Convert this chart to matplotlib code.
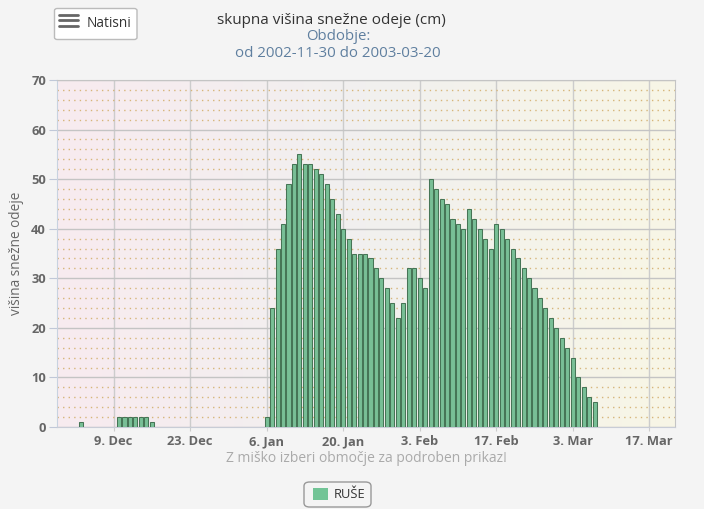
import matplotlib
matplotlib.use("Agg")
import matplotlib.pyplot as plt
from matplotlib.patches import FancyBboxPatch, Rectangle
from matplotlib.colors import LinearSegmentedColormap
import numpy as np
import pandas as pd

plt.rcParams['font.family'] = ['Open Sans', 'DejaVu Sans']

# daily snow depth (cm), 2002-11-30 .. 2003-03-20
start_date = "2002-11-30"
depth = [
    0, 0, 0, 1, 0, 0, 0, 0, 0, 0,            # 30 Nov - 9 Dec
    2, 2, 2, 2, 2, 2, 1,                     # 10 - 16 Dec
    0, 0, 0, 0, 0, 0, 0, 0, 0, 0, 0, 0, 0, 0, 0,  # 17 - 31 Dec
    0, 0, 0, 0, 0,                           # 1 - 5 Jan
    2, 24, 36, 41, 49, 53, 55, 53, 53, 52, 51, 49, 46, 43, 40, 38,
    35, 35, 35, 34, 32, 30, 28, 25, 22, 25,  # 6 - 31 Jan
    32, 32, 30, 28, 50, 48, 46, 45, 42, 41, 40, 44, 42, 40, 38, 36,
    41, 40, 38, 36, 34, 32, 30, 28, 26, 24, 22, 20,  # Feb
    18, 16, 14, 10, 8, 6, 5,                 # 1 - 7 Mar
    0, 0, 0, 0, 0, 0, 0, 0, 0, 0, 0, 0, 0,   # 8 - 20 Mar
]
tick_dates = ["2002-12-09", "2002-12-23", "2003-01-06", "2003-01-20",
              "2003-02-03", "2003-02-17", "2003-03-03", "2003-03-17"]
tick_labels = ["9. Dec", "23. Dec", "6. Jan", "20. Jan",
               "3. Feb", "17. Feb", "3. Mar", "17. Mar"]

W, H = 704, 509
fig = plt.figure(figsize=(W / 100, H / 100), dpi=100, facecolor='#f4f4f4')


def fx(px):
    return px / W


def fy(py):
    return 1 - py / H


ax = fig.add_axes([fx(57), fy(427), fx(675) - fx(57), fy(80) - fy(427)])

dates = pd.date_range(start_date, periods=len(depth), freq='D')
vals = np.array(depth)
mask = vals > 0
ax.bar(dates[mask], vals[mask], width=0.74, color='#78bf96',
       edgecolor='#467556', linewidth=0.75, zorder=3)

# plot background gradient
cmap = LinearSegmentedColormap.from_list('bg', ['#f8ebf0', '#f1f0ef', '#f8f6e6'])
ax.imshow(np.linspace(0, 1, 256)[None, :], extent=[0, 1, 0, 1], transform=ax.transAxes,
          aspect='auto', cmap=cmap, zorder=0)

ax.set_xlim(pd.Timestamp("2002-12-09") - pd.Timedelta(days=10.35),
            pd.Timestamp("2003-03-17") + pd.Timedelta(days=4.7))
ax.set_ylim(0, 70)

ax.set_xticks([pd.Timestamp(d) for d in tick_dates])
ax.set_xticklabels(tick_labels)
ax.set_yticks(range(0, 71, 10))
ax.set_yticks([v for v in range(0, 71, 2) if v % 10], minor=True)

ax.grid(axis='y', which='major', color='#c4c4c4', linewidth=1, zorder=1)
ax.grid(axis='x', which='major', color='#cccccc', linewidth=1, zorder=1)
ax.grid(axis='y', which='minor', color='#d6b57a', linewidth=1.0,
        linestyle=(0, (1, 3)), zorder=1)

for lab in ax.get_xticklabels() + ax.get_yticklabels():
    lab.set_fontweight('bold')
    lab.set_color('#666666')
    lab.set_fontsize(9.3)
ax.tick_params(axis='y', which='major', length=6, color='#c0c8d8', pad=2)
ax.tick_params(axis='y', which='minor', length=0)
ax.tick_params(axis='x', length=3, color='#cccccc', pad=3)

ax.spines['top'].set_color('#c4c4c4')
ax.spines['right'].set_color('#c4c4c4')
ax.spines['left'].set_color('#c8d2e0')
ax.spines['bottom'].set_color('#c8ccd6')

fig.text(fx(17), fy(253), "višina snežne odeje", rotation=90, ha='center', va='center',
         fontsize=9.8, color='#666666')

fig.text(fx(331), fy(20), "skupna višina snežne odeje (cm)", ha='center', va='center',
         fontsize=11, color='#333333')
fig.text(fx(338), fy(37), "Obdobje:", ha='center', va='center', fontsize=10.8, color='#5f7f9f')
fig.text(fx(338), fy(53), "od 2002-11-30 do 2003-03-20", ha='center', va='center',
         fontsize=10.8, color='#5f7f9f')

fig.text(fx(366), fy(459), "Z miško izberi območje za podroben prikaz!", ha='center',
         va='center', fontsize=10, color='#aaaaaa')

# print button
fig.patches.append(FancyBboxPatch((fx(54.5), fy(39.5)), fx(137) - fx(54.5), fy(8.5) - fy(39.5),
                                  boxstyle="round,pad=0,rounding_size=0.004",
                                  transform=fig.transFigure, facecolor='white',
                                  edgecolor='#bbbbbb', linewidth=1))
for yy in (15, 20.3, 25.7):
    fig.lines.append(plt.Line2D([fx(59), fx(78)], [fy(yy), fy(yy)], transform=fig.transFigure,
                                color='#666666', linewidth=2.0, solid_capstyle='round'))
fig.text(fx(87), fy(23.5), "Natisni", ha='left', va='center', fontsize=9.8, color='#333333')

# legend
fig.patches.append(FancyBboxPatch((fx(304), fy(507)), fx(371) - fx(304), fy(482) - fy(507),
                                  boxstyle="round,pad=0,rounding_size=0.008",
                                  transform=fig.transFigure, facecolor='#f4f4f4',
                                  edgecolor='#999999', linewidth=1))
fig.patches.append(Rectangle((fx(313), fy(500)), fx(328) - fx(313), fy(488) - fy(500),
                             transform=fig.transFigure, facecolor='#72c496', edgecolor='none'))
fig.text(fx(334), fy(495), "RUŠE", ha='left', va='center', fontsize=9.3, color='#333333')

fig.savefig("out.png", dpi=100, facecolor=fig.get_facecolor())
